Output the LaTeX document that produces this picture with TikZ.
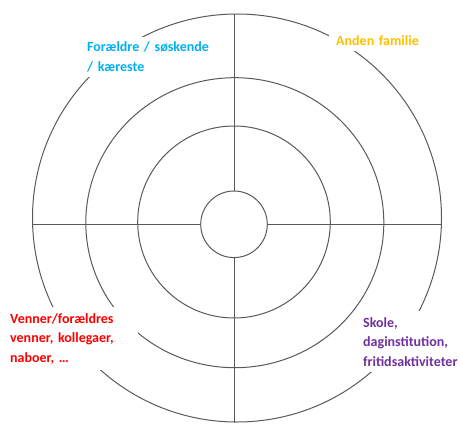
\documentclass[tikz,border=0pt]{standalone}
\usepackage{fontspec}
\setmainfont{Carlito}
\begin{document}
\begin{tikzpicture}[x=1pt,y=-1pt,
        ring/.style={draw=black!65,line width=1pt},
        circlelabel/.style={fill=white,inner xsep=7pt,inner ysep=6pt,align=left,anchor=base west,
            font=\bfseries\fontsize{14}{19.5}\selectfont}]
        \definecolor{familyblue}{HTML}{00B0F0}
        \definecolor{familyorange}{HTML}{FFC000}
        \definecolor{friendsred}{HTML}{FF0000}
        \definecolor{schoolpurple}{HTML}{7030A0}

        \useasboundingbox (0,0) rectangle (460,423);

        \draw[ring] (237,218) ellipse (204.5pt and 204pt);
        \draw[ring] (234.8,222.7) ellipse (149pt and 145pt);
        \draw[ring] (234,222) ellipse (96.3pt and 96pt);
        \node[ring,circle,minimum size=66.6pt,inner sep=0pt] (core) at (234,224.3) {};

        \coordinate (top) at (234,14);
        \coordinate (bottom) at (234,423);
        \coordinate (left) at (32.5,224.3);
        \coordinate (right) at (441.5,224.3);
        \draw[ring] (core.north) -- (top);
        \draw[ring] (core.south) -- (bottom);
        \draw[ring] (core.west) -- (left);
        \draw[ring] (core.east) -- (right);

        \node[circlelabel,text width=124pt,inner ysep=5pt,text=familyblue] (parents) at (80,51.5) {Forældre / søskende\\/ kæreste};
        \node[circlelabel,text width=95pt,text=familyorange] (family) at (329,45) {Anden familie};
        \node[circlelabel,text width=121pt,text=friendsred] (friends) at (3,323) {Venner/forældres\\venner, kollegaer,\\naboer, \dots};
        \node[circlelabel,text width=100pt,text=schoolpurple] (school) at (356,327) {Skole,\\daginstitution,\\fritidsaktiviteter};
    \end{tikzpicture}
\end{document}
